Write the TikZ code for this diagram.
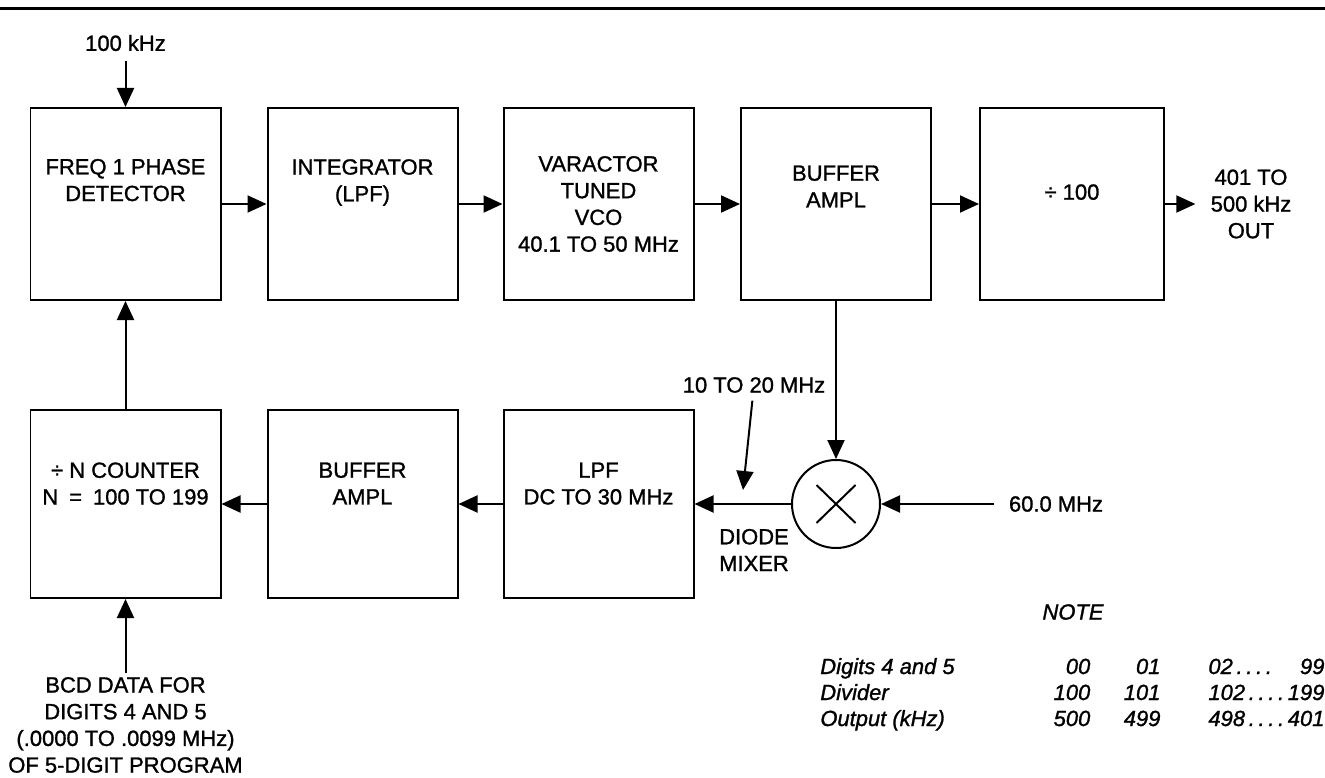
\documentclass[tikz,border=0pt]{standalone}
\usepackage{fontspec}
\setmainfont{Liberation Sans}[FakeBold=1.2]
\usepackage{array}
\usetikzlibrary{arrows.meta, positioning}
\newcommand{\notedots}{\,.\,.\,.\,.\,}

\begin{document}
\begin{tikzpicture}[
  every node/.style={font=\fontsize{12.5}{15.2}\selectfont},
  blk/.style={draw, line width=0.04cm, minimum width=3.8cm,
    minimum height=3.84cm, align=center, inner sep=0pt},
  lift/.style={text depth=#1},
  mixer/.style={circle, draw, line width=0.04cm, minimum size=1.76cm,
    inner sep=0pt, path picture={
      \draw[line width=0.04cm] (path picture bounding box.center)
        +(-0.39,-0.38) -- +(0.39,0.38)
        (path picture bounding box.center)
        +(-0.39,0.38) -- +(0.39,-0.38);}},
  lbl/.style={align=center, inner sep=2pt},
  sig/.style={line width=0.04cm, -{Triangle[length=0.38cm, width=0.34cm]}},
]
\useasboundingbox (0,0) rectangle (26.5,-15.56);
% Rule across the top of the page
\draw[line width=0.06cm] (0,-0.18) -- (26.5,-0.18);

% Forward path (top row)
\node[blk, lift=0.96cm] (freq) at (2.51,-4.08) {FREQ 1 PHASE\\DETECTOR};
\node[blk, lift=0.95cm] (integ) at (7.25,-4.08) {INTEGRATOR\\(LPF)};
\node[blk] (vco) at (11.97,-4.08) {VARACTOR\\TUNED\\VCO\\40.1 TO 50 MHz};
\node[blk, lift=0.7cm] (buf1) at (16.72,-4.08) {BUFFER\\AMPL};
\node[blk, lift=0.48cm, minimum width=3.68cm] (div) at (21.44,-4.08) {÷ 100};

% Feedback path (bottom row)
\node[blk, lift=0.82cm, minimum height=3.76cm] (cnt) at (2.51,-10.08)
  {÷ N COUNTER\\N\enspace=\enspace 100 TO 199};
\node[blk, lift=0.82cm, minimum height=3.76cm] (buf2) at (7.25,-10.08) {BUFFER\\AMPL};
\node[blk, lift=0.82cm, minimum height=3.76cm] (lpf) at (11.97,-10.08) {LPF\\DC TO 30 MHz};
\node[mixer] (mix) at (16.72,-10.08) {};

% Signal labels
\node[lbl, inner sep=0.2cm] (k100) at (2.51,-0.86) {100 kHz};
\node[lbl, inner sep=0.3cm] (out) at (25.02,-4.08) {401 TO\\500 kHz\\OUT};
\node[lbl, inner sep=0.15cm] (band) at (15.08,-7.70) {10 TO 20 MHz};
\coordinate (tap) at (14.86,-9.80);
\node[lbl, align=left] (mixname) at (15.08,-11.0) {DIODE\\MIXER};
\node[lbl, inner sep=0.3cm] (lo) at (21.12,-10.08) {60.0 MHz};
\node[lbl] (bcd) at (2.51,-14.5)
  {BCD DATA FOR\\DIGITS 4 AND 5\\(.0000 TO .0099 MHz)\\OF 5-DIGIT PROGRAM};

% Connections
\draw[sig] (k100) -- (freq);
\draw[sig] (freq) -- (integ);
\draw[sig] (integ) -- (vco);
\draw[sig] (vco) -- (buf1);
\draw[sig] (buf1) -- (div);
\draw[sig] (div) -- (out);
\draw[sig] (buf1) -- (mix);
\draw[sig] (lo) -- (mix);
\draw[sig] (mix) -- (lpf);
\draw[sig] (lpf) -- (buf2);
\draw[sig] (buf2) -- (cnt);
\draw[sig] (cnt) -- (freq);
\draw[sig] (bcd) -- (cnt);
\draw[sig] (band) -- (tap);

% Note table
\node[lbl, font=\itshape\fontsize{12.5}{15.2}\selectfont] (note) at (21.46,-12.24) {NOTE};
\node[anchor=base west, inner sep=0pt, font=\itshape\fontsize{12.5}{14.8}\selectfont]
  (tab) at (16.4,-13.48) {%
  \begin{tabular}[t]{@{}l@{\hspace{1.98cm}}r@{\hspace{0.67cm}}r@{\hspace{0.96cm}}l@{}r@{}}
  Digits 4 and 5 & 00 & 01 & 02\notedots & 99\\
  Divider & 100 & 101 & 102\notedots & 199\\
  Output (kHz) & 500 & 499 & 498\notedots & 401
  \end{tabular}};
\end{tikzpicture}
\end{document}
